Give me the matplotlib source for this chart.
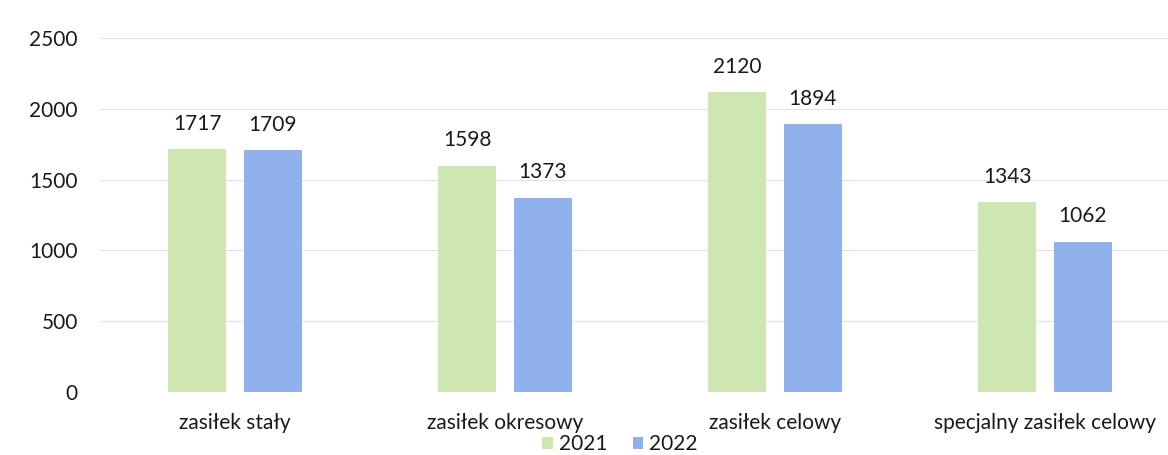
import numpy as np
import matplotlib.pyplot as plt

# values
categories = ['zasiłek stały', 'zasiłek okresowy', 'zasiłek celowy',
              'specjalny zasiłek celowy']
series_names = ['2021', '2022']
values_2021 = [1717, 1598, 2120, 1343]
values_2022 = [1709, 1373, 1894, 1062]
y_ticks = [0, 500, 1000, 1500, 2000, 2500]

plt.rcParams['font.family'] = ['Lato', 'DejaVu Sans']

fig = plt.figure(figsize=(11.68, 4.55), dpi=100)
ax = fig.add_axes([100 / 1168, 1 - 392 / 455, 1 - 100 / 1168, (392 - 38) / 455])

x = np.arange(len(categories))
width = 0.215
offset = 0.14
colors = ['#cde6b2', '#91b1ec']

for vals, off, col, name in [(values_2021, -offset, colors[0], series_names[0]),
                             (values_2022, offset, colors[1], series_names[1])]:
    bars = ax.bar(x + off, vals, width, color=col, label=name, zorder=2)
    for b, v in zip(bars, vals):
        ax.annotate(str(v), (b.get_x() + b.get_width() / 2, v),
                    xytext=(0, 11), textcoords='offset points',
                    ha='center', va='bottom', fontsize=15, color='#1a1a1a')

ax.set_ylim(0, 2500)
ax.set_xlim(-0.5, (1168 - 235) / 270)
ax.set_yticks(y_ticks)
ax.set_xticks(x)
ax.set_xticklabels(categories)
ax.tick_params(axis='both', length=0, labelsize=15, colors='#1a1a1a')
ax.tick_params(axis='x', pad=15)
ax.tick_params(axis='y', pad=16)
ax.grid(axis='y', color='#e2e2e2', linewidth=0.8, zorder=0)
for s in ax.spines.values():
    s.set_visible(False)

fig.legend(loc='center', bbox_to_anchor=(620 / 1168, 1 - 444 / 455), ncol=2,
           frameon=False, fontsize=15, handlelength=0.5, handleheight=0.5,
           handletextpad=0.3, columnspacing=1.2, labelcolor='#1a1a1a',
           borderpad=0, borderaxespad=0)

fig.savefig('out.png', dpi=100)
